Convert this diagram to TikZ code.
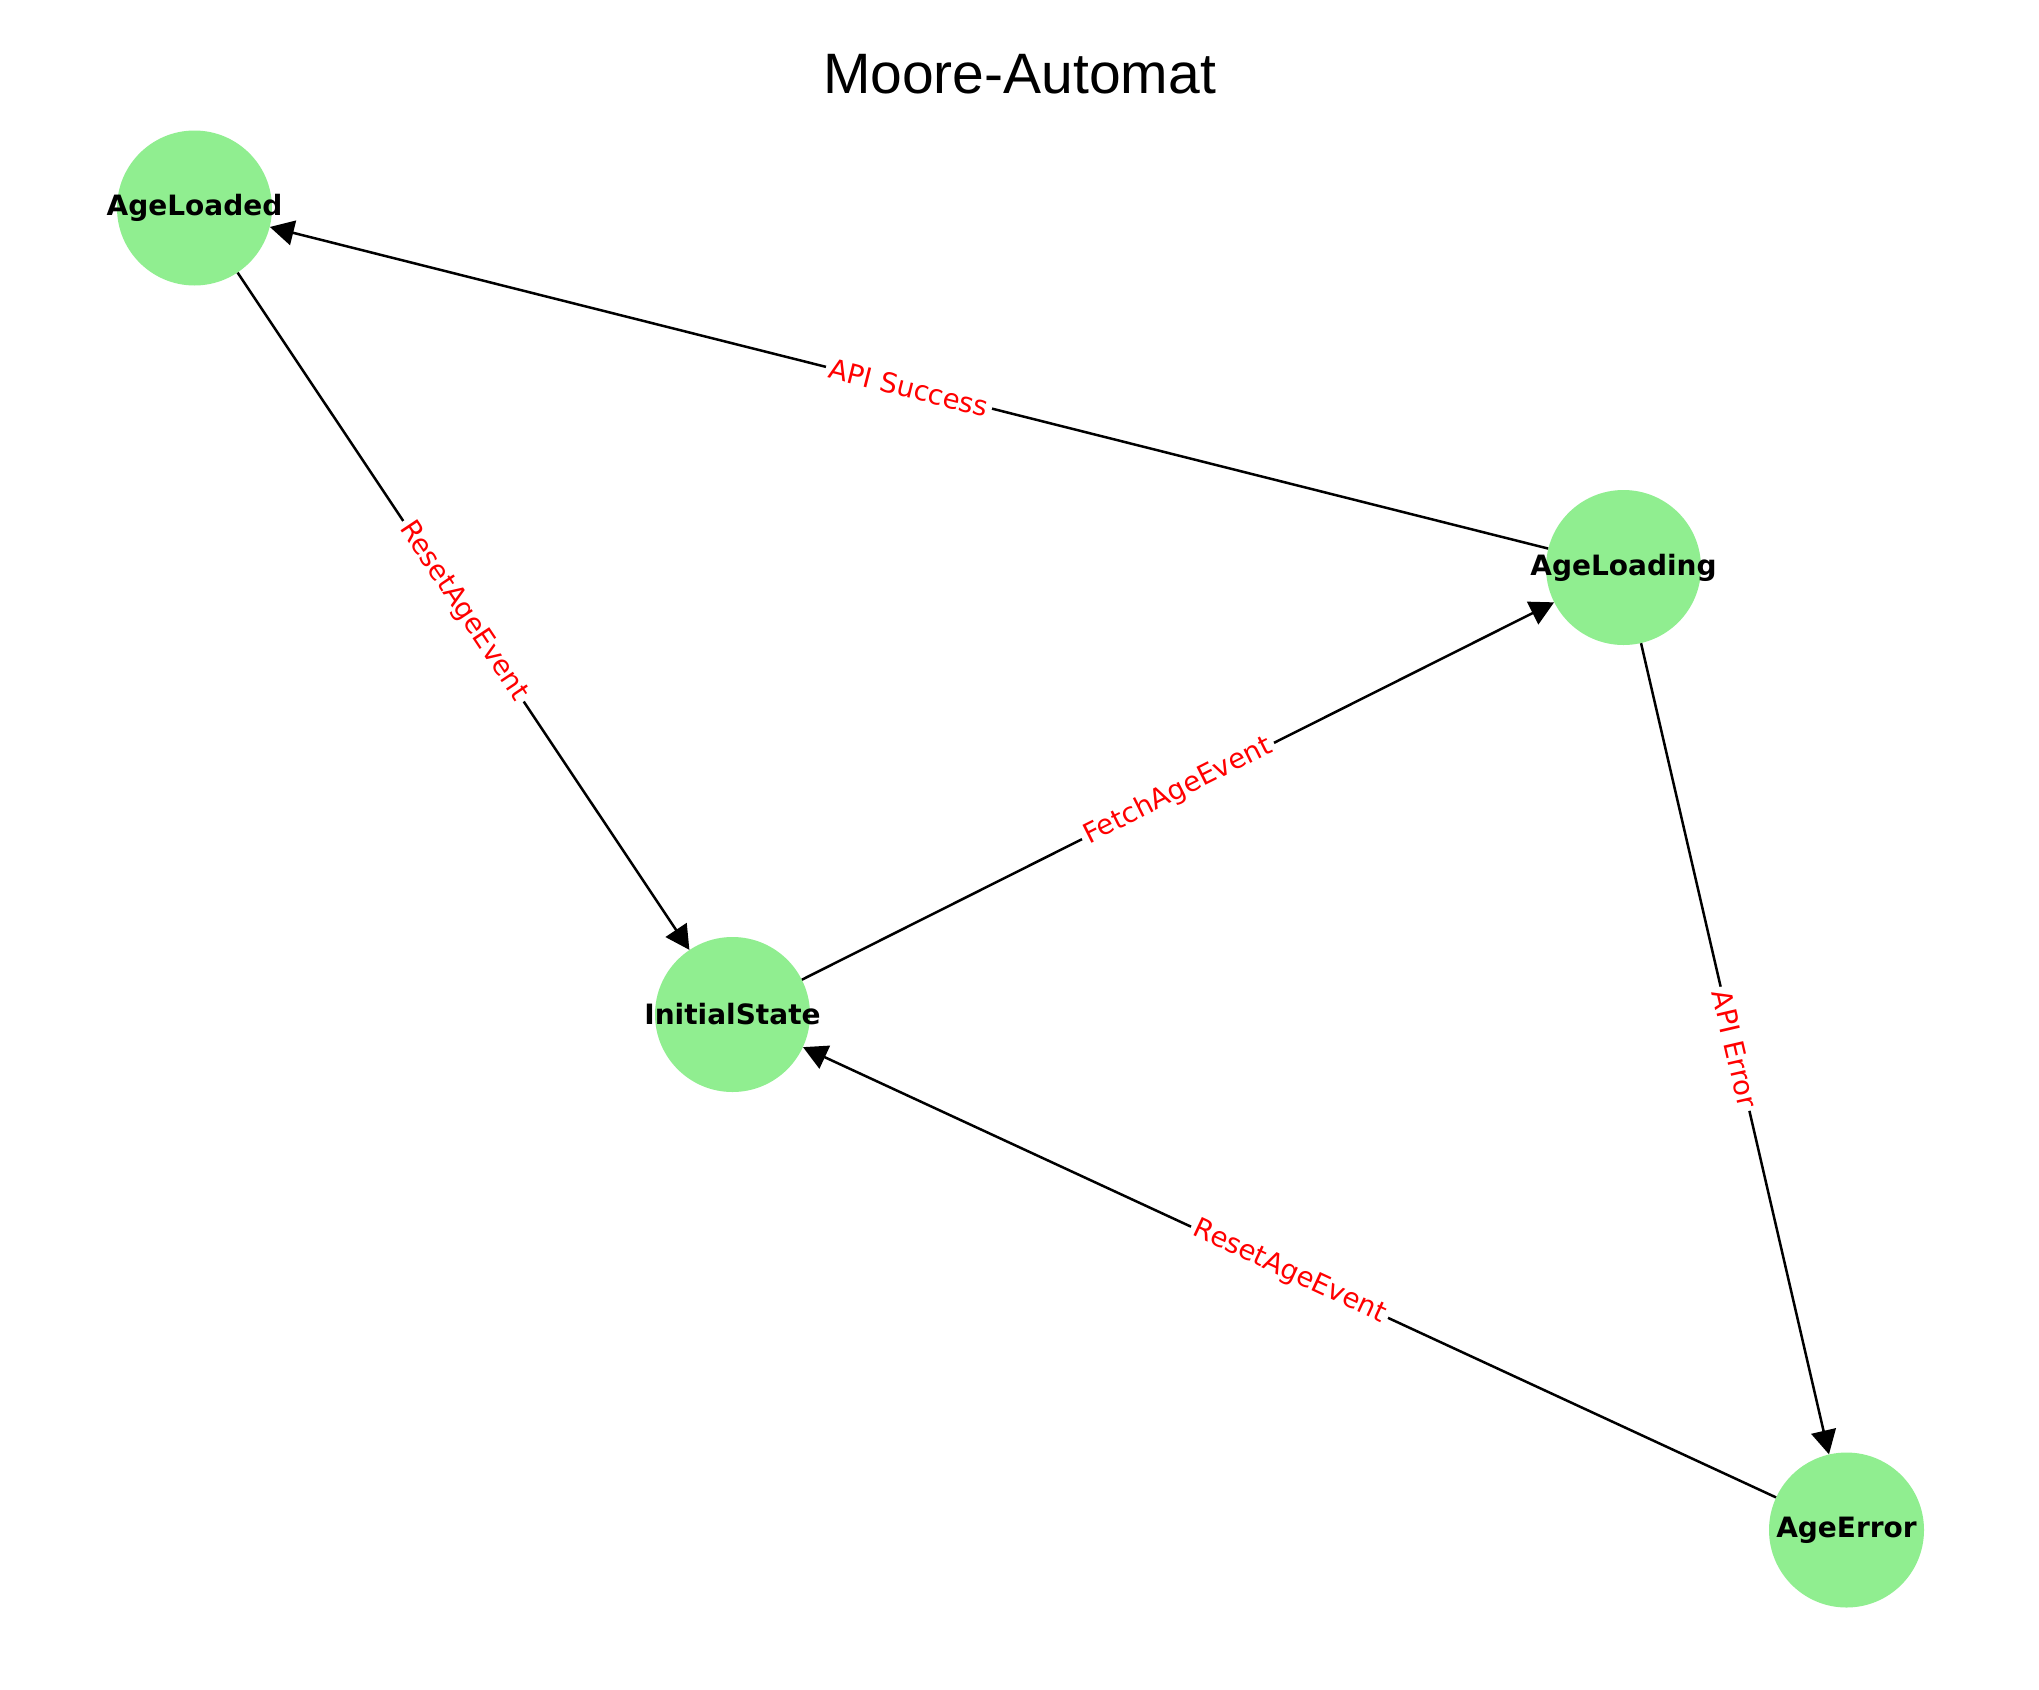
\documentclass[tikz,border=0pt]{standalone}
\usepackage{fontspec}
\setmainfont{DejaVu Sans}
\newfontfamily\titlefont{Liberation Sans}
\usetikzlibrary{arrows.meta}
\definecolor{lgreen}{HTML}{90EE90}
\begin{document}
\begin{tikzpicture}[x=1pt,y=-1pt,
  stnode/.style={circle, fill=lgreen, minimum size=155pt, inner sep=0pt,
    font=\fontsize{28}{28}\selectfont\bfseries},
  trans/.style={draw=black, line width=2.5pt, -{Triangle[length=24pt,width=25pt]}},
  elabel/.style={fill=white, text=red, font=\fontsize{27.5}{27.5}\selectfont,
    inner sep=4pt, sloped, pos=0.5}]
\useasboundingbox (0,0) rectangle (2039,1689);
\fill[white] (0,0) rectangle (2039,1689);

\node[font=\titlefont\fontsize{57}{57}\selectfont, anchor=base] (title) at (1019.5,93) {Moore-Automat};

\node[stnode] (AL)  at (194.5,208)    {\makebox[0pt]{AgeLoaded}};
\node[stnode] (ALg) at (1623.5,567.5) {\makebox[0pt]{AgeLoading}};
\node[stnode] (IS)  at (732.5,1014.5) {\makebox[0pt]{InitialState}};
\node[stnode] (AE)  at (1846.5,1530)  {\makebox[0pt]{AgeError}};

\draw[trans] (ALg) -- node[elabel] (l1) {API Success} (AL);
\draw[trans] (AL) -- node[elabel] (l2) {ResetAgeEvent} (IS);
\draw[trans] (IS) -- node[elabel] (l3) {FetchAgeEvent} (ALg);
\draw[trans] (ALg) -- node[elabel] (l4) {API Error} (AE);
\draw[trans] (AE) -- node[elabel] (l5) {ResetAgeEvent} (IS);
\end{tikzpicture}
\end{document}
